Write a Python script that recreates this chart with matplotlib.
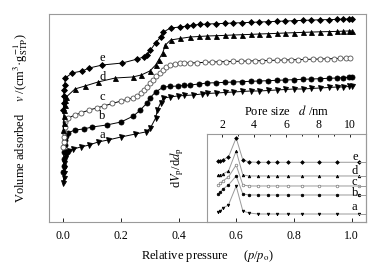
import matplotlib
matplotlib.use("Agg")
import matplotlib.pyplot as plt
from matplotlib.ticker import MultipleLocator

plt.rcParams['font.family'] = ['Liberation Serif', 'DejaVu Serif']
plt.rcParams['mathtext.fontset'] = 'stix'

# ---------------- main isotherm data (relative pressure, volume arb. units)
p_a = [0.0, 0.0005, 0.001, 0.002, 0.003, 0.005, 0.008, 0.012, 0.02, 0.035, 0.06, 0.09, 0.12, 0.155,
       0.2, 0.25, 0.285, 0.302, 0.32, 0.326, 0.337, 0.347, 0.37, 0.396, 0.42, 0.45, 0.48, 0.5, 0.53,
       0.56, 0.59, 0.62, 0.65, 0.68, 0.71, 0.74, 0.77, 0.8, 0.83, 0.86, 0.89, 0.92, 0.95, 0.97, 0.99, 1.0]
v_a = [39, 44, 49, 54, 59, 64, 67, 70, 71, 73, 75, 77, 80, 82,
       85, 88, 90, 94, 104, 112, 119, 124, 125, 126, 126.5, 127, 128, 128.5, 129,
       129.5, 130, 130.5, 131, 131, 131.5, 132, 132.5, 133, 133, 133.5, 134, 134.5, 135, 135, 135.5, 136]

p_b = [0.0, 0.0005, 0.001, 0.002, 0.004, 0.007, 0.01, 0.015, 0.04, 0.07, 0.1, 0.15, 0.2, 0.243,
       0.267, 0.29, 0.30, 0.32, 0.347, 0.37, 0.396, 0.42, 0.44, 0.47, 0.5, 0.53, 0.56, 0.59, 0.62,
       0.65, 0.68, 0.71, 0.74, 0.77, 0.8, 0.83, 0.86, 0.89, 0.92, 0.95, 0.97, 0.99, 1.0]
v_b = [50, 56, 63, 70, 77, 82, 86, 89, 92, 93, 95, 97, 100, 106,
       112, 119, 124, 130, 135, 135.5, 136, 136.5, 137, 138, 139, 139.3, 139.6, 140, 140.3,
       140.7, 141, 141.3, 141.7, 142, 142.3, 142.7, 143, 143.3, 143.7, 144, 144.3, 144.7, 145]

p_c = [0.0, 0.0005, 0.001, 0.002, 0.004, 0.007, 0.01, 0.017, 0.04, 0.06, 0.09, 0.115, 0.14, 0.17,
       0.2, 0.22, 0.24, 0.255, 0.27, 0.28, 0.29, 0.30, 0.31, 0.322, 0.335, 0.345, 0.357, 0.37, 0.387,
       0.405, 0.42, 0.44, 0.465, 0.49, 0.515, 0.54, 0.565, 0.59, 0.615, 0.64, 0.665, 0.69, 0.715, 0.74,
       0.765, 0.79, 0.815, 0.84, 0.865, 0.89, 0.915, 0.94, 0.96, 0.98, 0.995]
v_c = [75, 80, 85, 90, 95, 100, 103, 104, 107, 109, 112, 114, 116, 118.5,
       121, 122.5, 124, 126, 129, 132, 135, 138.5, 142, 145.5, 149, 152, 154.5, 157, 158,
       159, 159, 159, 159.3, 159.6, 160, 160.2, 160.4, 160.6, 160.8, 161, 161.2, 161.4, 161.6, 161.8,
       162, 162.2, 162.4, 162.6, 162.8, 163, 163.2, 163.4, 163.6, 163.8, 164]

p_d = [0.0, 0.0005, 0.001, 0.002, 0.004, 0.007, 0.01, 0.04, 0.075, 0.12, 0.18, 0.24, 0.27, 0.30,
       0.32, 0.33, 0.344, 0.354, 0.372, 0.405, 0.44, 0.47, 0.5, 0.53, 0.56, 0.59, 0.62, 0.65, 0.68,
       0.71, 0.74, 0.77, 0.8, 0.83, 0.86, 0.89, 0.92, 0.95, 0.97, 0.99, 1.0]
v_d = [92, 99, 106, 112, 117, 122, 125, 133, 136, 140, 144, 145, 147, 151,
       157, 162, 169, 177, 182, 183.5, 185, 185.5, 186, 186.3, 186.6, 187, 187.3, 187.6, 188,
       188.3, 188.6, 189, 189.3, 189.6, 189.9, 190.2, 190.4, 190.6, 190.8, 191, 191]

p_e = [0.0, 0.0005, 0.001, 0.002, 0.004, 0.007, 0.03, 0.065, 0.09, 0.135, 0.205, 0.257, 0.278, 0.29,
       0.302, 0.32, 0.337, 0.347, 0.372, 0.405, 0.43, 0.45, 0.475, 0.5, 0.53, 0.56, 0.59, 0.62, 0.65,
       0.68, 0.71, 0.74, 0.77, 0.8, 0.83, 0.86, 0.89, 0.92, 0.95, 0.97, 0.99, 1.0]
v_e = [112, 119, 126, 132, 137, 144, 149, 151, 154, 157, 159, 163, 165, 167,
       172, 179, 185, 190, 194, 195, 196, 197, 197.5, 198, 198.3, 198.6, 199, 199.3, 199.6,
       200, 200.3, 200.6, 201, 201.3, 201.6, 201.9, 202.2, 202.4, 202.6, 202.8, 203, 203]

# ---------------- inset pore size distribution (d in nm, arb. units offset)
d_pore = [1.75, 1.9, 2.05, 2.4, 2.88, 3.3, 3.7, 4.25, 4.85, 5.45, 6.1, 7.0, 8.05, 9.2, 10.55]
w_e = [60.7, 61.3, 62.3, 65, 84, 62, 60, 59.7, 59.7, 59.7, 59.7, 59.7, 59.7, 59.7, 59.7]
w_d = [46.5, 47, 48, 51, 71, 47, 46, 46, 46, 46, 46, 46, 46, 46, 46]
w_c = [37, 38.5, 41, 45, 57, 37, 36, 36, 36, 36, 36, 36, 36, 36, 36]
w_b = [28, 30, 33, 37, 46, 28, 27, 27, 27, 27, 27, 27, 27, 27, 27]
w_a = [10, 11, 14, 17, 36, 11, 9, 8, 8, 8, 8, 8, 8, 8, 8]

labels = ['a', 'b', 'c', 'd', 'e']
lab_v = [87, 106, 125, 145, 164]
lab_w = [15, 29, 40, 51, 65]

fig = plt.figure(figsize=(3.81, 2.66), dpi=100)
ax = fig.add_axes([0.1286, 0.1654, 0.832, 0.782])

spine_col = '#9a9a9a'
main = [(p_a, v_a, 'v', 'k', 'k'), (p_b, v_b, 'o', 'k', 'k'), (p_c, v_c, 'o', 'white', '#555555'),
        (p_d, v_d, '^', 'k', 'k'), (p_e, v_e, 'D', 'k', 'k')]
for (p, v, m, fc, ec) in main:
    ax.plot(p, v, '-', color='k', lw=0.7, marker=m, ms=3.6 if m != 'D' else 3.0,
            mfc=fc, mec=ec, mew=0.6)
for lab, lv in zip(labels, lab_v):
    ax.text(0.135, lv, lab, fontsize=9, ha='center', va='center')

ax.set_xlim(-0.05, 1.05)
ax.set_ylim(0, 208)
ax.set_xticks([0.0, 0.2, 0.4, 0.6, 0.8, 1.0])
ax.set_xticklabels(['0.0', '0.2', '0.4', '0.6', '0.8', '1.0'])
ax.set_yticks([])
ax.tick_params(axis='x', direction='in', length=3, width=0.6, labelsize=8.5, pad=6)
for s in ax.spines.values():
    s.set_color(spine_col)
    s.set_linewidth(0.8)
ax.set_xlabel(r'Relative pressure     ($p$/$p_\mathrm{o}$)', fontsize=9, labelpad=4)
ax.set_ylabel(r'Volume adsorbed    $v$ /(cm$^{3}$·g$_\mathrm{STP}^{-1}$)', fontsize=9, labelpad=14)

# ---------------- inset
axin = fig.add_axes([0.543, 0.1654, 0.832 + 0.1286 - 0.543, 0.331], facecolor='none')
inset = [(w_a, 'v', 'k', 'k'), (w_b, 'o', 'k', 'k'), (w_c, 'o', 'white', '#777777'),
         (w_d, '^', 'k', 'k'), (w_e, 'D', 'k', 'k')]
for (w, m, fc, ec) in inset:
    axin.plot(d_pore, w, '-', color='#9a9a9a', lw=0.7, marker=m, ms=1.9, mfc=fc, mec=ec, mew=0.5)
    axin.plot([d_pore[-1], 11.0], [w[-1], w[-1]], '-', color='#9a9a9a', lw=0.7)
for lab, lw_ in zip(labels, lab_w):
    axin.text(10.3, lw_, lab, fontsize=9, ha='center', va='center')
axin.set_xlim(1.05, 11.0)
axin.set_ylim(0, 88)
axin.set_yticks([])
axin.xaxis.tick_top()
axin.xaxis.set_label_position('top')
axin.set_xticks([2, 4, 6, 8, 10])
axin.xaxis.set_minor_locator(MultipleLocator(1))
axin.tick_params(axis='x', which='both', direction='in', length=2.5, width=0.6, labelsize=8.5, pad=2)
axin.tick_params(axis='x', which='minor', length=1.5)
for s in axin.spines.values():
    s.set_color(spine_col)
    s.set_linewidth(0.8)
axin.set_xlabel(r'Pore size   $d$ /nm', fontsize=9, labelpad=3)
axin.set_ylabel(r'd$V_\mathrm{p}$/d$d_\mathrm{p}$', fontsize=9)
axin.yaxis.set_label_coords(-0.13, 0.62)

fig.savefig('out.png', dpi=100)
